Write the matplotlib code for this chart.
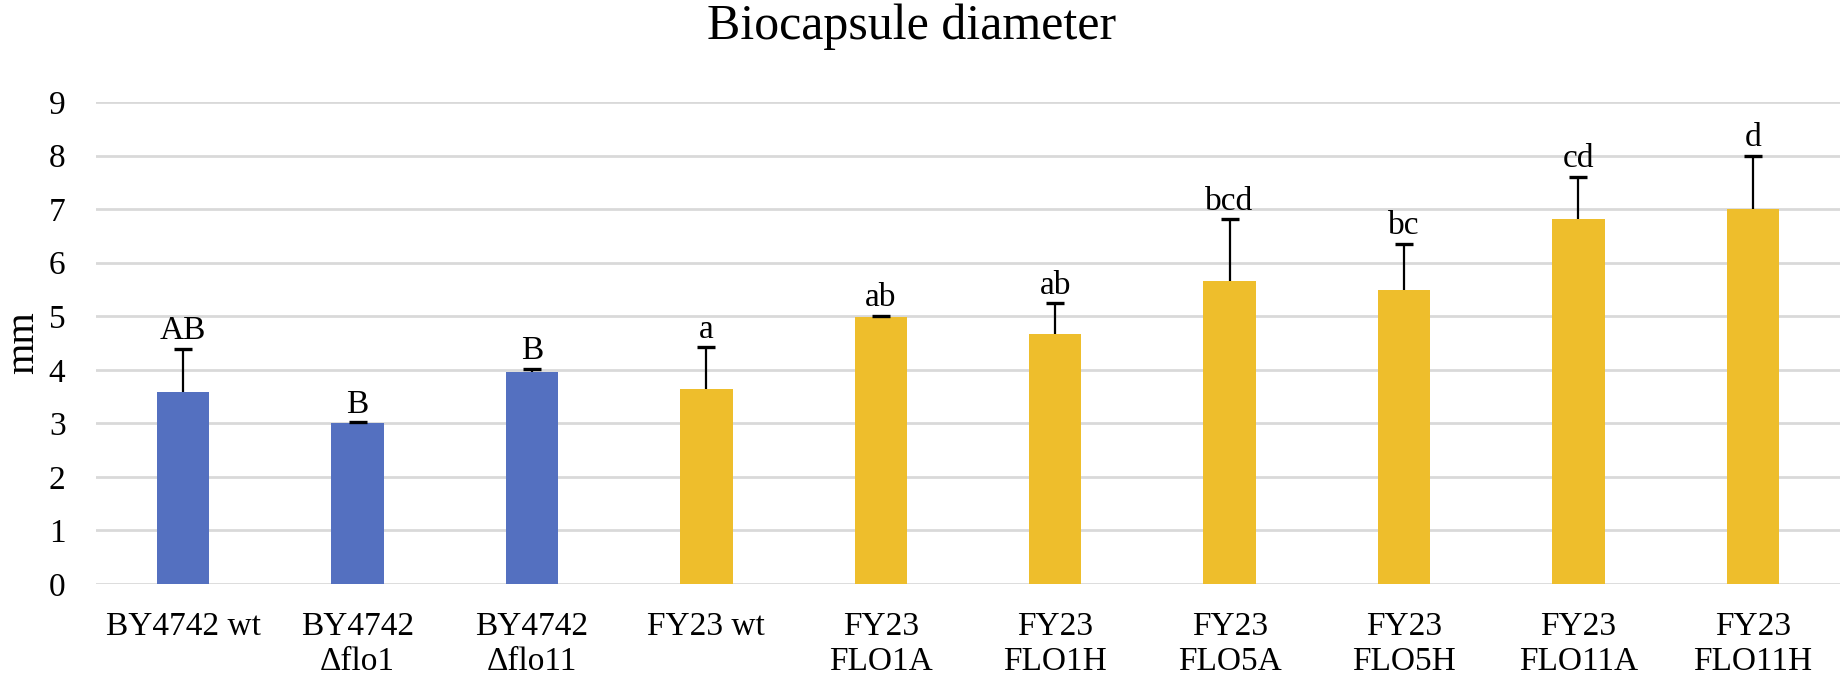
import matplotlib
matplotlib.use("Agg")
import matplotlib.pyplot as plt
import numpy as np

categories = ["BY4742 wt", "BY4742\nΔflo1", "BY4742\nΔflo11", "FY23 wt",
              "FY23\nFLO1A", "FY23\nFLO1H", "FY23\nFLO5A", "FY23\nFLO5H",
              "FY23\nFLO11A", "FY23\nFLO11H"]
values = [3.59, 3.00, 3.96, 3.64, 4.99, 4.66, 5.65, 5.49, 6.82, 7.00]
errors = [0.80, 0.02, 0.06, 0.78, 0.02, 0.58, 1.16, 0.86, 0.78, 1.00]
letters = ["AB", "B", "B", "a", "ab", "ab", "bcd", "bc", "cd", "d"]
groups = ["BY", "BY", "BY", "FY", "FY", "FY", "FY", "FY", "FY", "FY"]
yticks = [0, 1, 2, 3, 4, 5, 6, 7, 8, 9]

group_colors = {"BY": "#5470C0", "FY": "#EEBE2C"}

plt.rcParams['font.family'] = ['Liberation Serif', 'DejaVu Serif']

fig = plt.figure(figsize=(18.45, 6.85), dpi=100)
ax = fig.add_axes([96/1845, (685-584)/685, (1840-96)/1845, (584-102)/685])

x = np.arange(len(categories))
vals = np.array(values)
errs = np.array(errors)
colors = [group_colors[g] for g in groups]
ax.bar(x, vals, width=0.30, color=colors, zorder=3)
# upper-only error bars: stem + cap
ax.vlines(x, vals, vals + errs, colors='black', linewidth=1.6, zorder=4)
ax.plot(x, vals + errs, linestyle='none', marker='_', markersize=13,
        markeredgewidth=2.4, color='black', zorder=4)

for xi, top, t in zip(x, vals + errs, letters):
    ax.annotate(t, (xi, top), xytext=(0, 7), textcoords='offset points',
                ha='center', va='baseline', fontsize=24, color='black')

ax.set_xlim(-0.5, len(categories) - 0.5)
ax.set_ylim(0, 9)
ax.set_yticks(yticks)
ax.set_yticklabels([str(t) for t in yticks], fontsize=24)
ax.set_xticks(x)
ax.set_xticklabels(categories, fontsize=24, linespacing=1.2)
ax.tick_params(axis='both', length=0)
ax.tick_params(axis='y', pad=22)
ax.tick_params(axis='x', pad=20)
ax.grid(axis='y', color='#D9D9D9', linewidth=2, zorder=0)
ax.set_axisbelow(True)
for s in ax.spines.values():
    s.set_visible(False)

fig.text(24/1845, 1 - 343/685, "mm", rotation=90, ha='center', va='center',
         fontsize=29)

fig.text(912/1845, 1 - 39/685, "Biocapsule diameter", ha='center',
         va='baseline', fontsize=36)

fig.savefig("out.png", dpi=100)
